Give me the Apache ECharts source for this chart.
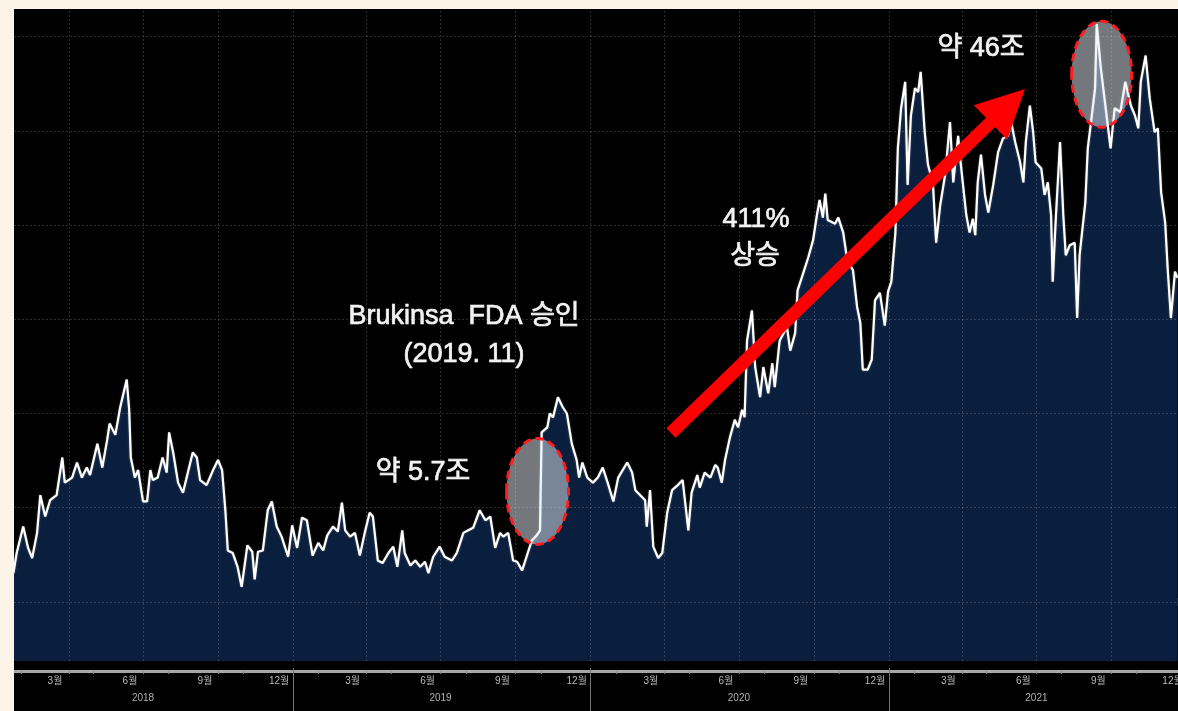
<!DOCTYPE html>
<html lang="ko">
<head>
<meta charset="utf-8">
<title>BeiGene 시가총액 추이</title>
<script src="https://cdn.jsdelivr.net/npm/echarts@6/dist/echarts.min.js"></script>
<style>
  html, body { margin: 0; padding: 0; width: 1178px; height: 711px; overflow: hidden; background: #fcf4e7; }
  #chart { position: absolute; left: 14px; top: 9px; width: 1164px; height: 702px; background: #000; }
</style>
</head>
<body>
<div id="chart"></div>
<script>
// Market capitalisation (조 원), sampled at turning points of the daily series
const dates = [
  '2018-01-23','2018-01-27','2018-02-04','2018-02-10','2018-02-15','2018-02-21','2018-02-25','2018-03-03','2018-03-09','2018-03-17',
  '2018-03-24','2018-03-27','2018-04-05','2018-04-11','2018-04-17','2018-04-23','2018-04-27','2018-05-06','2018-05-12','2018-05-18',
  '2018-05-21','2018-05-28','2018-06-03','2018-06-11','2018-06-14','2018-06-16','2018-06-21','2018-06-25','2018-07-01','2018-07-06',
  '2018-07-10','2018-07-13','2018-07-19','2018-07-25','2018-07-30','2018-08-02','2018-08-07','2018-08-13','2018-08-19','2018-08-25',
  '2018-08-31','2018-09-05','2018-09-09','2018-09-17','2018-09-25','2018-10-01','2018-10-06','2018-10-10','2018-10-13','2018-10-19',
  '2018-10-25','2018-10-30','2018-11-06','2018-11-12','2018-11-15','2018-11-19','2018-11-25','2018-12-01','2018-12-06','2018-12-12',
  '2018-12-18','2018-12-26','2018-12-31','2019-01-06','2019-01-12','2019-01-18','2019-01-25','2019-02-01','2019-02-07','2019-02-12',
  '2019-02-19','2019-02-25','2019-03-02','2019-03-06','2019-03-12','2019-03-18','2019-03-24','2019-03-30','2019-04-05','2019-04-09',
  '2019-04-15','2019-04-21','2019-04-28','2019-05-04','2019-05-09','2019-05-15','2019-05-18','2019-05-25','2019-05-31','2019-06-06',
  '2019-06-12','2019-06-16','2019-06-22','2019-06-30','2019-07-06','2019-07-15','2019-07-21','2019-07-29','2019-08-04','2019-08-10',
  '2019-08-18','2019-08-25','2019-08-31','2019-09-06','2019-09-12','2019-09-16','2019-09-22','2019-09-28','2019-10-03','2019-10-09',
  '2019-10-15','2019-10-21','2019-10-27','2019-10-31','2019-11-02','2019-11-09','2019-11-12','2019-11-16','2019-11-22','2019-11-28',
  '2019-12-03','2019-12-09','2019-12-15','2019-12-18','2019-12-22','2019-12-28','2020-01-04','2020-01-10','2020-01-16','2020-01-22',
  '2020-01-29','2020-02-04','2020-02-15','2020-02-21','2020-02-25','2020-03-02','2020-03-08','2020-03-10','2020-03-14','2020-03-18',
  '2020-03-24','2020-03-29','2020-04-04','2020-04-10','2020-04-17','2020-04-23','2020-04-30','2020-05-04','2020-05-11','2020-05-14',
  '2020-05-20','2020-05-27','2020-06-02','2020-06-05','2020-06-10','2020-06-14','2020-06-20','2020-06-26','2020-06-30','2020-07-05',
  '2020-07-08','2020-07-11','2020-07-17','2020-07-21','2020-07-27','2020-07-31','2020-08-06','2020-08-11','2020-08-14','2020-08-20',
  '2020-08-29','2020-09-02','2020-09-08','2020-09-11','2020-09-18','2020-09-24','2020-09-30','2020-10-05','2020-10-08','2020-10-12',
  '2020-10-15','2020-10-18','2020-10-27','2020-10-31','2020-11-06','2020-11-11','2020-11-18','2020-11-23','2020-11-27','2020-11-30',
  '2020-12-06','2020-12-11','2020-12-15','2020-12-21','2020-12-27','2020-12-31','2021-01-04','2021-01-09','2021-01-12','2021-01-16',
  '2021-01-21','2021-01-24','2021-01-28','2021-02-02','2021-02-06','2021-02-09','2021-02-14','2021-02-18','2021-02-24','2021-02-28',
  '2021-03-05','2021-03-11','2021-03-17','2021-03-21','2021-03-27','2021-03-30','2021-04-06','2021-04-10','2021-04-14','2021-04-17',
  '2021-04-20','2021-04-24','2021-04-29','2021-05-03','2021-05-09','2021-05-15','2021-05-21','2021-05-27','2021-05-31','2021-06-05',
  '2021-06-11','2021-06-15','2021-06-18','2021-06-23','2021-06-27','2021-06-30','2021-07-07','2021-07-11','2021-07-15','2021-07-19',
  '2021-07-21','2021-07-25','2021-07-30','2021-08-03','2021-08-06','2021-08-11','2021-08-17','2021-08-20','2021-08-23','2021-08-30',
  '2021-09-02','2021-09-06','2021-09-11','2021-09-13','2021-09-18','2021-09-24','2021-09-30','2021-10-05','2021-10-12','2021-10-18',
  '2021-10-21','2021-10-25','2021-10-30','2021-11-03','2021-11-06','2021-11-12','2021-11-17','2021-11-23','2021-11-27','2021-12-01',
  '2021-12-06','2021-12-09','2021-12-13','2021-12-18','2021-12-21'
];
const marketCap = [
  2.3, 3.9, 6.0, 4.3, 3.5, 5.5, 8.5, 6.8, 8.1, 8.5,
  11.5, 9.5, 9.9, 11.1, 9.9, 10.7, 10.1, 12.6, 10.7, 12.9,
  14.2, 13.3, 15.5, 17.7, 15.3, 11.5, 9.9, 10.5, 8.0, 8.0,
  10.5, 9.7, 9.9, 11.5, 10.3, 13.5, 11.9, 9.5, 8.7, 10.3,
  11.9, 11.5, 9.7, 9.3, 10.5, 11.3, 10.5, 7.3, 4.1, 3.9,
  2.8, 1.2, 4.5, 4.0, 1.8, 4.0, 4.1, 7.3, 8.0, 6.0,
  5.2, 3.6, 6.1, 4.3, 6.7, 6.5, 3.7, 4.7, 4.1, 5.3,
  6.0, 5.6, 7.9, 5.7, 5.2, 5.5, 3.7, 5.5, 7.1, 6.8,
  3.3, 3.1, 3.9, 4.4, 2.8, 5.7, 3.9, 2.9, 3.3, 2.8,
  3.2, 2.3, 3.6, 4.4, 3.6, 3.3, 3.9, 5.5, 5.7, 5.9,
  7.3, 6.5, 6.8, 4.3, 5.5, 5.2, 5.5, 3.3, 3.2, 2.5,
  3.7, 4.9, 5.3, 5.7, 13.5, 13.9, 15.0, 14.7, 16.3, 15.5,
  15.0, 12.6, 11.3, 9.9, 11.1, 9.9, 9.5, 9.9, 10.7, 9.5,
  8.0, 9.9, 11.1, 10.3, 8.9, 8.5, 8.1, 6.0, 8.9, 4.4,
  3.5, 3.9, 7.1, 8.9, 9.3, 9.7, 5.7, 8.7, 10.1, 9.1,
  10.3, 9.9, 10.9, 10.7, 9.5, 11.3, 13.1, 14.5, 13.9, 15.3,
  14.7, 20.8, 23.2, 18.7, 16.3, 18.7, 16.6, 19.0, 17.1, 20.8,
  21.9, 20.0, 21.4, 24.8, 26.2, 27.4, 28.8, 30.9, 32.0, 30.6,
  32.5, 30.4, 30.1, 30.6, 29.4, 27.2, 26.4, 23.5, 22.2, 18.5,
  18.5, 19.3, 24.0, 24.6, 22.0, 24.7, 25.5, 29.4, 36.1, 39.3,
  41.4, 33.2, 38.7, 40.9, 40.6, 42.2, 37.4, 34.8, 33.4, 28.6,
  31.6, 34.0, 38.2, 33.4, 37.1, 35.0, 30.8, 29.4, 30.5, 29.2,
  33.4, 35.6, 32.4, 31.0, 33.2, 35.8, 36.9, 37.1, 38.2, 36.6,
  35.0, 33.4, 36.6, 39.5, 37.4, 35.0, 34.5, 32.4, 33.4, 30.8,
  25.5, 30.8, 36.6, 30.8, 27.6, 28.4, 28.6, 22.6, 27.6, 31.8,
  36.1, 38.2, 40.9, 46.0, 42.5, 39.3, 36.1, 39.3, 39.0, 41.4,
  40.6, 39.5, 38.7, 37.7, 41.4, 43.5, 40.1, 37.4, 37.7, 32.6,
  30.2, 26.6, 22.6, 26.3, 25.8
];

// Axis layout: labelled months, year captions, year boundaries, quarter grid lines
const monthLabelDates = [
  '2018-03-15','2018-06-15','2018-09-15','2018-12-15',
  '2019-03-15','2019-06-15','2019-09-15','2019-12-15',
  '2020-03-15','2020-06-15','2020-09-15','2020-12-15',
  '2021-03-15','2021-06-15','2021-09-15','2021-12-15'
];
const yearLabelDates = ['2018-07-01', '2019-07-01', '2020-07-01', '2021-07-01'];
const yearBreakDates = ['2019-01-01', '2020-01-01', '2021-01-01'];
const quarterLineDates = [
  '2018-04-01','2018-07-01','2018-10-01','2019-01-01','2019-04-01','2019-07-01','2019-10-01',
  '2020-01-01','2020-04-01','2020-07-01','2020-10-01','2021-01-01','2021-04-01','2021-07-01','2021-10-01'
];
const gridValues = [0, 7.5, 15, 22.5, 30, 37.5, 45];
const xRange = ['2018-01-23 17:00', '2021-12-21 17:00'];
const yRange = [-4.7, 47.2];

function toTime(s) {
  const m = s.match(/(\d+)-(\d+)-(\d+)(?: (\d+):(\d+))?/);
  return new Date(+m[1], +m[2] - 1, +m[3], +(m[4] || 0), +(m[5] || 0)).getTime();
}

// small ticks on the axis band at each month start, except the labelled months
const monthTicks = [];
for (let y = 2018; y <= 2021; y++) {
  for (let m = 0; m < 12; m++) {
    if (y === 2018 && m === 0) continue;
    if (m % 3 === 2) continue;
    monthTicks.push(new Date(y, m, 1).getTime());
  }
}

const xMin = toTime(xRange[0]);
const xMax = toTime(xRange[1]);
const labelFont = '"Liberation Sans", "Noto Sans CJK KR", sans-serif';

const chart = echarts.init(document.getElementById('chart'), null, { renderer: 'canvas' });

chart.setOption({
  animation: false,
  backgroundColor: '#000000',
  grid: { left: 0, right: 0, top: 0, bottom: 50, containLabel: false, outerBoundsMode: 'none' },
  xAxis: [
    {
      // data axis; its line forms the dark band under the plot
      type: 'time', min: xMin, max: xMax, position: 'bottom', offset: 4,
      axisLine: { show: true, lineStyle: { color: '#3c3c3c', width: 8 } },
      axisTick: { show: false }, axisLabel: { show: false }, splitLine: { show: false }
    },
    {
      // month captions on the light rule (timestamps on a plain numeric scale)
      type: 'value', min: xMin, max: xMax, position: 'bottom', offset: 10,
      axisLine: { show: true, lineStyle: { color: '#a6a6a6', width: 3 } },
      axisTick: { show: true, customValues: monthTicks, length: 3, lineStyle: { color: '#8a8a8a', width: 1 } },
      axisLabel: {
        show: true,
        customValues: monthLabelDates.map(toTime),
        formatter: v => (new Date(v).getMonth() + 1) + '월',
        color: '#b8b8b8', fontSize: 10, margin: 5, fontFamily: labelFont
      },
      splitLine: { show: false }
    },
    {
      // year captions and year separators
      type: 'value', min: xMin, max: xMax, position: 'bottom', offset: 7,
      axisLine: { show: false },
      axisTick: { show: true, customValues: yearBreakDates.map(toTime), length: 43, lineStyle: { color: '#767676', width: 1 } },
      axisLabel: {
        show: true,
        customValues: yearLabelDates.map(toTime),
        formatter: v => String(new Date(v).getFullYear()),
        color: '#b4b0a8', fontSize: 10, margin: 25, fontFamily: labelFont
      },
      splitLine: { show: false }
    }
  ],
  yAxis: {
    type: 'value', min: yRange[0], max: yRange[1], show: false,
    splitLine: { show: false }
  },
  series: [{
    type: 'line',
    xAxisIndex: 0,
    data: dates.map((d, i) => [toTime(d), marketCap[i]]),
    symbol: 'none',
    showSymbol: false,
    lineStyle: { color: '#ffffff', width: 2.2, shadowColor: 'rgba(255,255,255,0.35)', shadowBlur: 2 },
    areaStyle: { color: '#0a1e3d', opacity: 1, origin: 'start' },
    markLine: {
      silent: true,
      symbol: ['none', 'none'],
      animation: false,
      label: { show: false },
      lineStyle: { color: 'rgba(255,255,255,0.17)', type: [2, 2], width: 1 },
      data: [
        ...gridValues.map(v => ({ yAxis: v })),
        ...quarterLineDates.map(d => ({ xAxis: toTime(d) }))
      ]
    }
  }]
});

// Annotations: highlighted ranges, trend arrow and captions
const highlights = [
  { date: '2019-10-28', value: 8.8, rx: 31, ry: 53 },
  { date: '2021-09-19', value: 42.0, rx: 30, ry: 53 }
];
const trendArrow = { tail: [657, 424], tip: [1011, 80], shaftHalf: 6.5, headLen: 48, headHalf: 24 };
const captions = [
  { text: 'Brukinsa  FDA 승인', x: 450, y: 308 },
  { text: '(2019. 11)', x: 450, y: 346 },
  { text: '약 5.7조', x: 409, y: 464 },
  { text: '411%', x: 742, y: 211 },
  { text: '상승', x: 741, y: 248 },
  { text: '약 46조', x: 967, y: 40 }
];

function arrowPoints(a) {
  const dx = a.tip[0] - a.tail[0], dy = a.tip[1] - a.tail[1];
  const len = Math.hypot(dx, dy);
  const ux = dx / len, uy = dy / len, nx = -uy, ny = ux;
  const bx = a.tip[0] - ux * a.headLen, by = a.tip[1] - uy * a.headLen;
  return [
    [a.tail[0] + nx * a.shaftHalf, a.tail[1] + ny * a.shaftHalf],
    [bx + nx * a.shaftHalf, by + ny * a.shaftHalf],
    [bx + nx * a.headHalf, by + ny * a.headHalf],
    a.tip.slice(),
    [bx - nx * a.headHalf, by - ny * a.headHalf],
    [bx - nx * a.shaftHalf, by - ny * a.shaftHalf],
    [a.tail[0] - nx * a.shaftHalf, a.tail[1] - ny * a.shaftHalf]
  ];
}

const graphics = [];
highlights.forEach(h => {
  const c = chart.convertToPixel({ xAxisIndex: 0, yAxisIndex: 0 }, [toTime(h.date), h.value]);
  graphics.push({
    type: 'ellipse', z: 100, silent: true,
    shape: { cx: c[0], cy: c[1], rx: h.rx, ry: h.ry },
    style: { fill: 'rgba(232,238,246,0.5)', stroke: '#ff1c1c', lineWidth: 3, lineDash: [8, 5] }
  });
});
graphics.push({
  type: 'polygon', z: 90, silent: true,
  shape: { points: arrowPoints(trendArrow) },
  style: { fill: '#ff0000' }
});
captions.forEach(t => {
  graphics.push({
    type: 'text', z: 110, silent: true, x: t.x, y: t.y,
    style: {
      text: t.text, fill: '#f2f2f2', fontSize: 27, fontFamily: labelFont,
      stroke: '#f2f2f2', lineWidth: 0.7,
      align: 'center', verticalAlign: 'middle'
    }
  });
});
chart.setOption({ graphic: graphics });
</script>
</body>
</html>
